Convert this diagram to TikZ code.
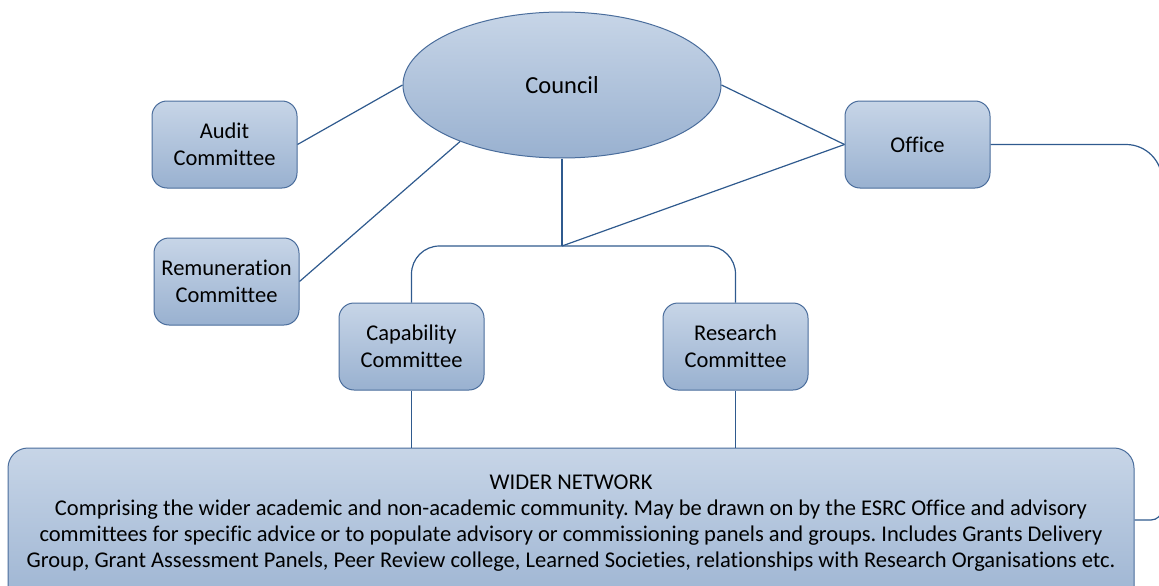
\documentclass[tikz,border=0pt]{standalone}
\usepackage{fontspec}
\setmainfont{Carlito}[Ligatures={NoCommon}]
\usetikzlibrary{shapes.geometric}
\definecolor{topc}{HTML}{C7D5E7}
\definecolor{botc}{HTML}{99B1D0}
\definecolor{edgec}{HTML}{4A6D9C}
\definecolor{linec}{HTML}{2F5A8E}
\frenchspacing
\begin{document}
\begin{tikzpicture}[x=1pt,y=-1pt,
  box/.style={draw=edgec, line width=1pt, rounded corners=15pt, top color=topc, bottom color=botc,
    minimum width=145pt, minimum height=87pt, inner sep=0pt, align=center,
    font=\fontsize{22.5}{27}\selectfont},
  conn/.style={draw=linec, line width=1.2pt}]
\useasboundingbox (0,0) rectangle (1159,586);
\node[ellipse, draw=edgec, line width=1pt, top color=topc, bottom color=botc,
  minimum width=318pt, minimum height=146pt, inner sep=0pt,
  font=\fontsize{24.5}{29}\selectfont] (council) at (562,85) {Council};
\node[box] (audit) at (224.5,144.5) {Audit\\Committee};
\node[box] (remun) at (226.5,281.5) {Remuneration\\Committee};
\node[box] (office) at (917.5,144.5) {Office};
\node[box] (capab) at (411.5,346.5) {Capability\\Committee};
\node[box] (resea) at (735.5,346.5) {Research\\Committee};
\node[draw=edgec, line width=1pt, rounded corners=20pt, top color=topc, bottom color=botc,
  minimum width=1126pt, minimum height=172pt, inner sep=0pt] (wider) at (571,534) {};
\node[align=center, font=\fontsize{22.5}{25.8}\selectfont] (widertext) at (571,523)
  {WIDER NETWORK\\
   Comprising the wider academic and non-academic community. May be drawn on by the ESRC Office and advisory\\
   committees for specific advice or to populate advisory or commissioning panels and groups. Includes Grants Delivery\\
   Group, Grant Assessment Panels, Peer Review college, Learned Societies, relationships with Research Organisations etc.};
\coordinate (junc) at (562,246);
\coordinate (rt) at (1162,330);
\draw[conn] (audit.east) -- (council.west);
\draw[conn] (remun.east) -- (council.209);
\draw[conn] (council.east) -- (office.west);
\draw[conn] (council.south) -- (junc);
\draw[conn] (office.west) -- (junc);
\draw[conn, rounded corners=28pt] (capab.north) |- (junc) -| (resea.north);
\draw[conn] (capab.south) -- (capab.south |- wider.north);
\draw[conn] (resea.south) -- (resea.south |- wider.north);
\draw[conn, rounded corners=36pt] (office.east) -| (rt);
\draw[conn, rounded corners=11pt] (rt) |- (wider.east |- 0,520);
\end{tikzpicture}
\end{document}
